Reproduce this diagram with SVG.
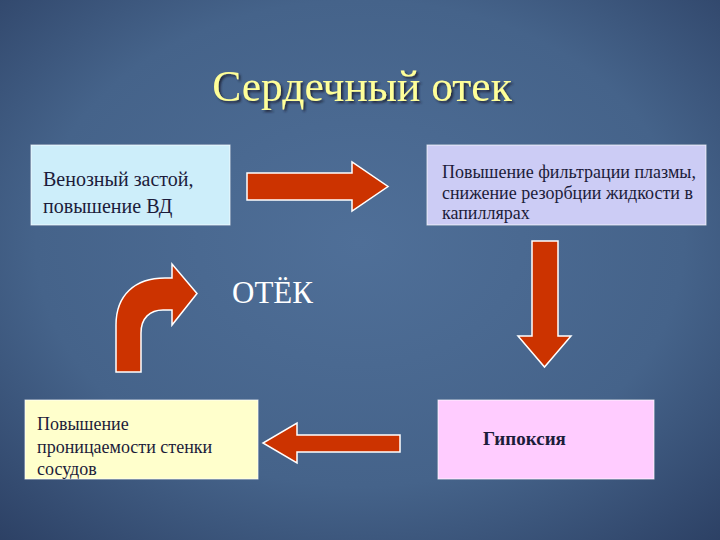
<svg xmlns="http://www.w3.org/2000/svg" width="720" height="540" viewBox="0 0 720 540">
<defs>
<radialGradient id="bg" cx="50%" cy="45%" r="75%">
<stop offset="0" stop-color="#4f6f98"/>
<stop offset="0.6" stop-color="#45638a"/>
<stop offset="1" stop-color="#2c4064"/>
</radialGradient>
<filter id="sh" x="-10%" y="-10%" width="130%" height="140%">
<feDropShadow dx="2" dy="2" stdDeviation="0.8" flood-color="#1a2438" flood-opacity="0.9"/>
</filter>
</defs>
<style>
.box{stroke:#ffffff;stroke-width:1;stroke-opacity:0.7}
.t{font-family:"Liberation Serif","DejaVu Serif",serif;fill:#1c1c3a}
.arr{fill:#cc3300;stroke:#ffffff;stroke-width:1.5;stroke-linejoin:miter}
</style>
<rect x="0" y="0" width="720" height="540" fill="url(#bg)"/>
<text x="362" y="101" text-anchor="middle" font-family="Liberation Serif, DejaVu Serif, serif" font-size="43.5" fill="#ffff99" filter="url(#sh)">Сердечный отек</text>
<text x="232" y="303" font-family="Liberation Serif, DejaVu Serif, serif" font-size="31" fill="#ffffff">ОТЁК</text>
<g id="node-venous">
<rect class="box" x="31" y="145" width="199" height="80" fill="#cdeefa"/>
<text class="t" x="43" y="186" font-size="20">Венозный застой,</text>
<text class="t" x="43" y="213" font-size="20">повышение ВД</text>
</g>
<g id="node-filtration">
<rect class="box" x="427" y="145" width="279" height="80" fill="#ccccf5"/>
<text class="t" x="442" y="178" font-size="18">Повышение фильтрации плазмы,</text>
<text class="t" x="442" y="199" font-size="18">снижение резорбции жидкости в</text>
<text class="t" x="442" y="219" font-size="18">капиллярах</text>
</g>
<g id="node-hypoxia">
<rect class="box" x="438" y="400" width="216" height="79" fill="#ffccff"/>
<text class="t" x="483" y="445" font-size="19" font-weight="bold">Гипоксия</text>
</g>
<g id="node-permeability">
<rect class="box" x="25" y="400" width="233" height="79" fill="#ffffcc"/>
<text class="t" x="37" y="430" font-size="18">Повышение</text>
<text class="t" x="37" y="453" font-size="18">проницаемости стенки</text>
<text class="t" x="37" y="475" font-size="18">сосудов</text>
</g>
<g id="connectors">
<path class="arr" d="M247,173 H352 V162 L388,186.5 L352,211 V200 H247 Z"/>
<path class="arr" d="M532,241 H558 V336 H571 L544.5,367 L518,336 H532 Z"/>
<path class="arr" d="M400,435 H297 V423 L263,443 L297,463 V452 H400 Z"/>
<path class="arr" d="M116,372 V325 C116,295 135,278 165,278 H172 V264 L197,293.5 L172,325 V310 H163 C150,310 141,318 141,333 V372 Z"/>
</g>
</svg>
